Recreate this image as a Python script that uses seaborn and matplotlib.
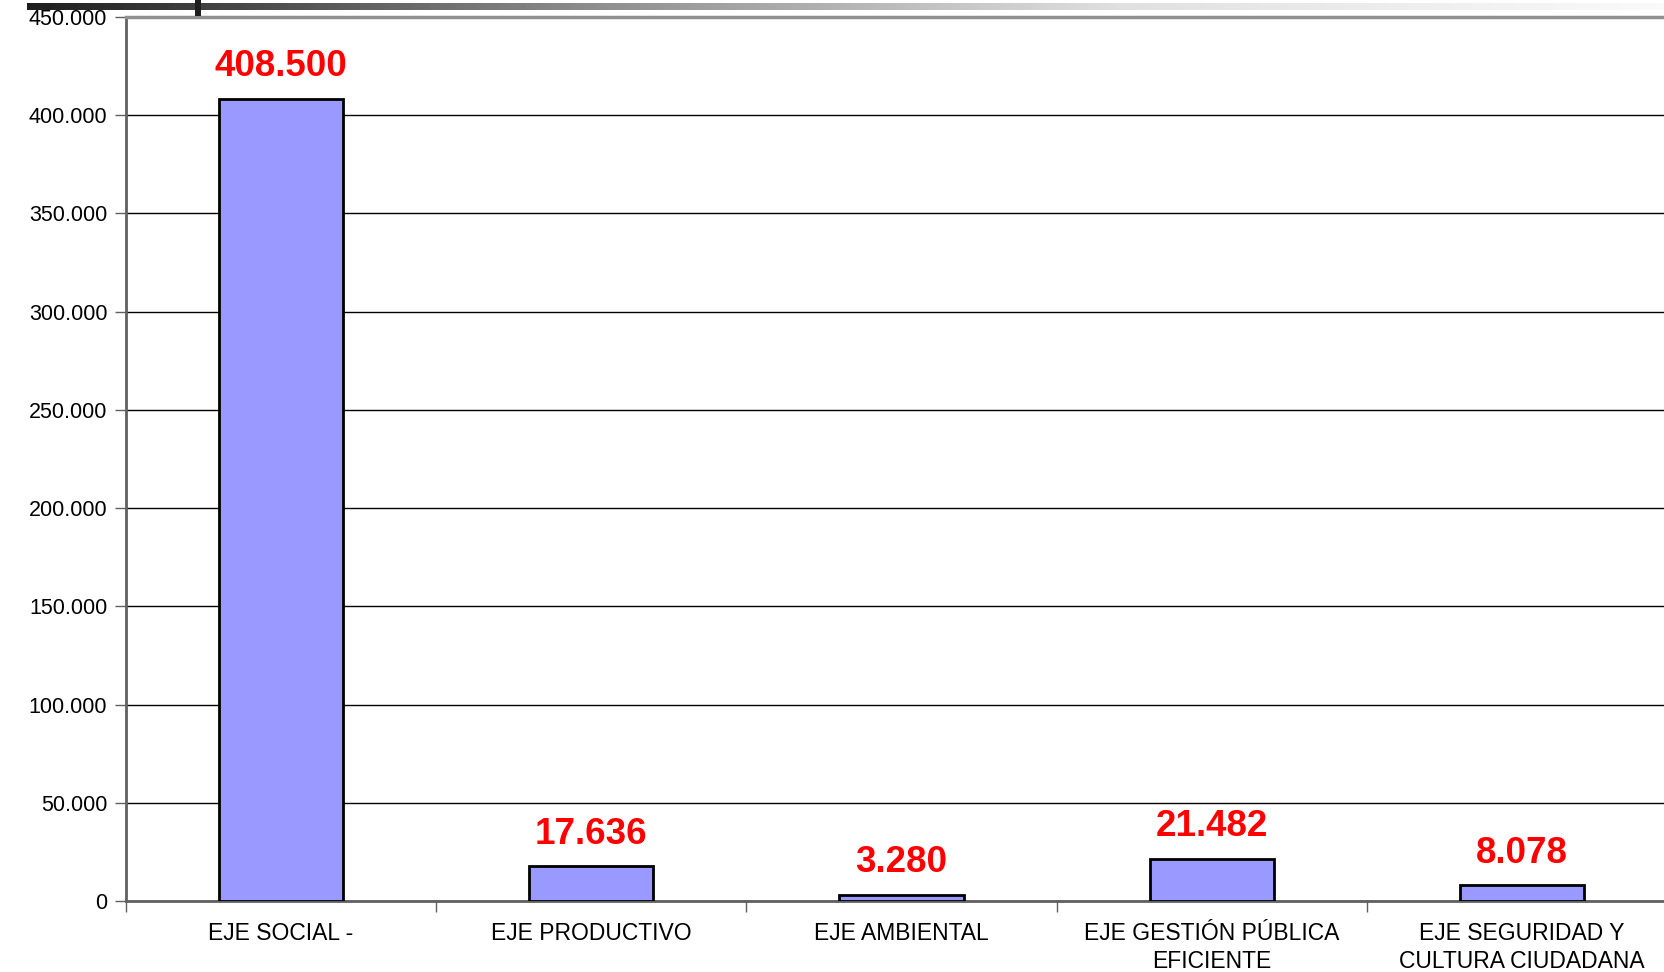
import matplotlib
matplotlib.use("Agg")
import matplotlib.pyplot as plt
import seaborn as sns
import pandas as pd
import numpy as np
from matplotlib.ticker import FuncFormatter, FixedLocator
from matplotlib.patches import Rectangle
from matplotlib.colors import LinearSegmentedColormap

categories = ["EJE SOCIAL -", "EJE PRODUCTIVO", "EJE AMBIENTAL",
              "EJE GESTIÓN PÚBLICA\nEFICIENTE", "EJE SEGURIDAD Y\nCULTURA CIUDADANA"]
values = [408500, 17636, 3280, 21482, 8078]
y_ticks = [0, 50000, 100000, 150000, 200000, 250000, 300000, 350000, 400000, 450000]


def fmt(v):
    return f"{v:,.0f}".replace(",", ".")


sns.set_theme(style="white")
plt.rcParams['font.family'] = ['Liberation Sans', 'DejaVu Sans']

W, H = 1664, 972
fig = plt.figure(figsize=(W / 100, H / 100), dpi=100)
left, right, top, bottom = 126, 1677, 17, 901
ax = fig.add_axes([left / W, 1 - bottom / H, (right - left) / W, (bottom - top) / H])

df = pd.DataFrame({"cat": categories, "val": values})
sns.barplot(data=df, x="cat", y="val", color="#9999ff", width=0.4,
            edgecolor="black", linewidth=2, saturation=1, ax=ax, zorder=3)

ax.set_xlim(-0.5, len(categories) - 0.5)
ax.set_ylim(y_ticks[0], y_ticks[-1])
ax.set_xlabel("")
ax.set_ylabel("")

ax.yaxis.set_major_locator(FixedLocator(y_ticks))
ax.yaxis.set_major_formatter(FuncFormatter(lambda v, p: fmt(v)))
ax.set_axisbelow(True)
ax.yaxis.grid(True, color="black", linewidth=1)
ax.xaxis.grid(False)

ax.xaxis.set_minor_locator(FixedLocator(np.arange(-0.5, len(categories), 1.0)))
ax.tick_params(axis="x", which="major", length=0, pad=15, labelsize=16.5, labelcolor="black")
ax.tick_params(axis="x", which="minor", length=8, width=1, color="#606060", direction="out", bottom=True)
ax.tick_params(axis="y", which="major", length=8, width=1, color="#606060", direction="out",
               left=True, pad=5.5, labelsize=15.5, labelcolor="black")
for lbl in ax.get_xticklabels():
    lbl.set_linespacing(1.28)
    lbl.set_verticalalignment("top")

for s in ["left", "bottom"]:
    ax.spines[s].set_color("#606060")
    ax.spines[s].set_linewidth(2)
ax.spines["top"].set_color("#909090")
ax.spines["top"].set_linewidth(2.5)
ax.spines["right"].set_visible(False)

for i, v in enumerate(values):
    ax.annotate(fmt(v), xy=(i, v), xytext=(0, 23), textcoords="offset points",
                ha="center", va="center", color="#ff0000", fontsize=26.5, fontweight="bold",
                zorder=5)

# decorative gradient bar at top
gax = fig.add_axes([27 / W, 1 - 10 / H, (W - 27) / W, 7 / H])
cmap = LinearSegmentedColormap.from_list("g", ["#1e1e1e", "#8a8a8a", "#e0e0e0", "#fafafa"])
gax.imshow(np.linspace(0, 1, 512)[None, :], aspect="auto", cmap=cmap)
gax.set_axis_off()
fig.patches.append(Rectangle((195 / W, 1 - 16 / H), 6 / W, 16 / H, transform=fig.transFigure,
                             facecolor="#1e1e1e", edgecolor="none", zorder=10))

fig.savefig("out.png", dpi=100)
